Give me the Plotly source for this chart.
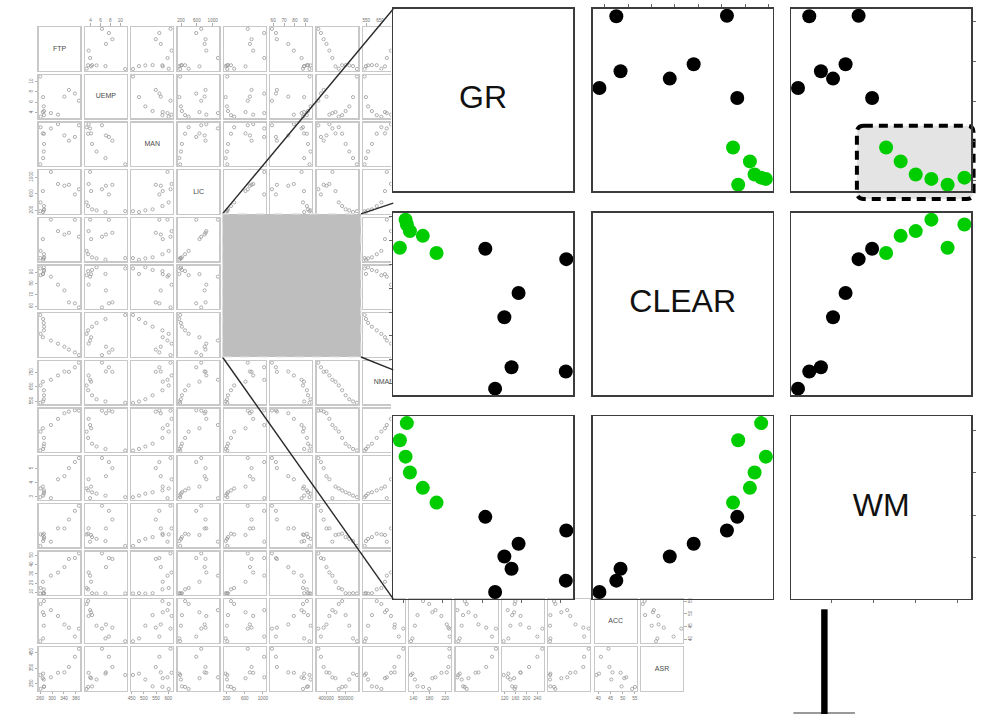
import plotly.graph_objects as go

# ---------------- data (Detroit homicide data, 1961-1973) ----------------
FTP = [260.35, 269.80, 272.04, 272.96, 272.51, 261.34, 268.89, 295.99, 319.87, 341.43, 356.59, 376.69, 390.19]
UEMP = [11.0, 7.0, 5.2, 4.3, 3.5, 3.2, 4.1, 3.9, 3.6, 7.1, 8.4, 7.7, 6.3]
MAN = [455.5, 480.2, 506.1, 535.8, 576.0, 601.7, 577.3, 596.9, 613.5, 569.3, 548.8, 563.4, 609.3]
LIC = [178.15, 156.41, 198.02, 222.10, 301.92, 391.22, 665.56, 1131.21, 837.60, 794.90, 817.74, 583.17, 709.59]
GR = [215.98, 180.48, 209.57, 231.67, 297.65, 367.62, 616.54, 1029.75, 786.23, 713.77, 750.43, 1027.38, 666.50]
CLEAR = [93.4, 88.5, 94.4, 92.0, 91.0, 87.4, 88.3, 86.1, 79.0, 73.9, 63.4, 62.5, 58.9]
WM = [558724, 538584, 519171, 500457, 482418, 465029, 448267, 432109, 416533, 401518, 387046, 373095, 359647]
NMAN = [538.1, 547.6, 562.8, 591.0, 626.1, 659.8, 686.2, 699.6, 729.9, 757.8, 755.3, 787.0, 819.8]
GOV = [133.9, 137.6, 143.6, 150.3, 164.3, 179.5, 187.5, 195.4, 210.3, 223.8, 227.7, 230.9, 230.2]
HE = [2.98, 3.09, 3.23, 3.33, 3.46, 3.60, 3.73, 2.91, 4.25, 4.47, 5.04, 5.47, 5.76]
WE = [117.18, 134.02, 141.68, 147.98, 159.85, 157.19, 155.29, 131.75, 178.74, 178.30, 209.54, 240.05, 258.05]
HOM = [8.60, 8.90, 8.52, 8.89, 13.07, 14.57, 21.36, 28.03, 31.49, 37.39, 46.26, 47.24, 52.33]
ACC = [39.17, 40.27, 45.31, 49.51, 55.05, 53.90, 50.62, 51.47, 49.16, 45.80, 44.54, 41.03, 44.17]
ASR = [306.18, 315.16, 277.53, 234.07, 230.84, 217.99, 286.11, 291.59, 320.39, 323.03, 357.38, 422.07, 473.01]

# highlighted (green) observations in the zoomed view
HIGHLIGHT = [1, 1, 1, 1, 1, 1, 0, 0, 0, 0, 0, 0, 0]

VAR_NAMES = ["FTP", "UEMP", "MAN", "LIC", "GR", "CLEAR", "WM", "NMAN", "GOV", "HE", "WE", "HOM", "ACC", "ASR"]
ZOOM_VARS = ["GR", "CLEAR", "WM"]

# tick values (small matrix)
TICKS = {
    "FTP": [260, 300, 340, 380], "UEMP": [4, 6, 8, 10], "MAN": [450, 500, 550, 600],
    "LIC": [200, 600, 1000], "GR": [200, 600, 1000], "CLEAR": [60, 70, 80, 90],
    "WM": [400000, 500000], "NMAN": [550, 650, 750], "GOV": [140, 180, 220],
    "HE": [3, 4, 5], "WE": [120, 160, 200, 240], "HOM": [10, 20, 30, 40, 50],
    "ACC": [40, 45, 50, 55], "ASR": [250, 350, 450],
}
# tick values (zoomed view, unlabeled)
ZOOM_TICKS = {
    "GR": [200, 400, 600, 800, 1000],
    "CLEAR": [60, 65, 70, 75, 80, 85, 90, 95],
    "WM": [400000, 450000, 500000, 550000],
}

DATA = {"FTP": FTP, "UEMP": UEMP, "MAN": MAN, "LIC": LIC, "GR": GR, "CLEAR": CLEAR, "WM": WM,
        "NMAN": NMAN, "GOV": GOV, "HE": HE, "WE": WE, "HOM": HOM, "ACC": ACC, "ASR": ASR}

# ---------------- geometry (pixels) ----------------
W, H = 986, 714
FONT = "Liberation Sans, Arial, sans-serif"


def fx(px):
    return px / W


def fy(py):
    return 1 - py / H


def ext(v, f=0.04):
    lo, hi = min(v), max(v)
    d = (hi - lo) * f
    return [lo - d, hi + d]


SX0, SXP, SW = 35.0, 46.67, 42.0
SY0, SYP, SH = 25.3, 47.82, 43.5
TRIM_X = 390.0

OX = [392.0, 593.0, 793.0]
OW = 181.0
OY = [7.0, 211.5, 415.5]
OH = 183.0

axes = {}
traces = []
count = [0]


def new_axes(xdom, ydom, xr, yr, xo, yo):
    count[0] += 1
    s = "" if count[0] == 1 else str(count[0])
    axes["xaxis" + s] = dict(domain=xdom, range=xr, anchor="y" + s, **xo)
    axes["yaxis" + s] = dict(domain=ydom, range=yr, anchor="x" + s, **yo)
    return "x" + s, "y" + s


def small_axis(line_mirror=True):
    return dict(showline=True, mirror=line_mirror, linecolor="#c8c8c8", linewidth=1.3,
                showgrid=False, zeroline=False, ticks="", showticklabels=False, fixedrange=True)


def add_ticks(d, side, vals, angle=0):
    d.update(side=side, ticks="outside", ticklen=2.5, tickwidth=0.8, tickcolor="#9a9a9a",
             tickvals=vals, ticktext=[str(v) for v in vals], showticklabels=True,
             tickfont=dict(size=4.6, color="#707070", family=FONT), tickangle=angle)


n = len(VAR_NAMES)
for r in range(n):
    for c in range(n):
        if c >= 8 and r <= 11:
            continue  # hidden by the zoomed view
        if 4 <= r <= 6 and 4 <= c <= 6:
            continue  # hidden by the grey selection block
        xv, yv = VAR_NAMES[c], VAR_NAMES[r]
        left = SX0 + c * SXP
        top = SY0 + r * SYP
        xr = ext(DATA[xv])
        yr = ext(DATA[yv])
        right = left + SW
        trim = (c == 7 and r <= 11)
        if trim:
            frac = (TRIM_X - left) / SW
            xr = [xr[0], xr[0] + (xr[1] - xr[0]) * frac]
            right = TRIM_X
        xo = small_axis(True)
        yo = small_axis(not trim)
        if r == 0 and c % 2 == 1:
            add_ticks(xo, "top", TICKS[xv])
        if r == n - 1 and c % 2 == 0:
            add_ticks(xo, "bottom", TICKS[xv])
        if c == 0 and r % 2 == 1:
            add_ticks(yo, "left", TICKS[yv], -90)
        if c == n - 1 and r % 2 == 0:
            add_ticks(yo, "right", TICKS[yv], -90)
        xa, ya = new_axes([fx(left), fx(right)], [fy(top + SH), fy(top)],
                          xr, yr, xo, yo)
        if r == c:
            fxr, fyr = ext(DATA[xv]), ext(DATA[yv])
            traces.append(go.Scatter(
                x=[(fxr[0] + fxr[1]) / 2], y=[(fyr[0] + fyr[1]) / 2], mode="text",
                text=[xv], textfont=dict(size=7, color="#4a4a4a", family=FONT),
                xaxis=xa, yaxis=ya, hoverinfo="skip", showlegend=False, cliponaxis=True))
        else:
            traces.append(go.Scatter(
                x=DATA[xv], y=DATA[yv], mode="markers", xaxis=xa, yaxis=ya,
                marker=dict(symbol="circle-open", size=3.2, color="#9a9a9a", line=dict(width=0.8)),
                hoverinfo="skip", showlegend=False, cliponaxis=trim))

# ---------------- zoomed 3x3 view ----------------
point_colors = ["#00CD00" if h else "#000000" for h in HIGHLIGHT]


def big_axis():
    return dict(showline=True, mirror=True, linecolor="#3c3c3c", linewidth=1.6,
                showgrid=False, zeroline=False, ticks="", showticklabels=False, fixedrange=True)


def big_ticks(d, side, vals):
    d.update(side=side, ticks="outside", ticklen=3, tickwidth=1, tickcolor="#666666",
             tickvals=vals, showticklabels=False)


for r in range(3):
    for c in range(3):
        xv, yv = ZOOM_VARS[c], ZOOM_VARS[r]
        xo, yo = big_axis(), big_axis()
        if r == 0 and c == 1:
            big_ticks(xo, "top", ZOOM_TICKS[xv])
        if r == 2 and c in (0, 2):
            big_ticks(xo, "bottom", ZOOM_TICKS[xv])
        if c == 0 and r == 1:
            big_ticks(yo, "left", ZOOM_TICKS[yv])
        if c == 2 and r in (0, 2):
            big_ticks(yo, "right", ZOOM_TICKS[yv])
        xr, yr = ext(DATA[xv]), ext(DATA[yv])
        xa, ya = new_axes([fx(OX[c]), fx(OX[c] + OW)], [fy(OY[r] + OH), fy(OY[r])],
                          xr, yr, xo, yo)
        if r == c:
            traces.append(go.Scatter(
                x=[(xr[0] + xr[1]) / 2], y=[(yr[0] + yr[1]) / 2], mode="text", text=[xv],
                textfont=dict(size=32, color="#111111", family=FONT),
                xaxis=xa, yaxis=ya, hoverinfo="skip", showlegend=False))
        else:
            traces.append(go.Scatter(
                x=DATA[xv], y=DATA[yv], mode="markers", xaxis=xa, yaxis=ya,
                marker=dict(symbol="circle", size=14, color=point_colors, line=dict(width=0)),
                hoverinfo="skip", showlegend=False, cliponaxis=False))

# ---------------- decorations ----------------
shapes = []
G0, G1 = (220.0, 212.5), (359.5, 356.0)
ZL, ZR = OX[0], OX[2] + OW
ZT, ZB = OY[0], OY[2] + OH
connectors = [((G0[0], G0[1]), (ZL, ZT)),
              ((G0[0], G1[1]), (ZL, ZB)),
              ((G1[0], G0[1]), (ZR, ZT)),
              ((G1[0], G1[1]), (ZR, ZB))]
for (a, b) in connectors:
    # stop the connector where it reaches the zoomed view's left edge
    t = min(1.0, (ZL - a[0]) / (b[0] - a[0]))
    ex, ey = a[0] + (b[0] - a[0]) * t, a[1] + (b[1] - a[1]) * t
    shapes.append(dict(type="line", xref="paper", yref="paper", layer="above",
                       x0=fx(a[0]), y0=fy(a[1]), x1=fx(ex), y1=fy(ey),
                       line=dict(color="#2a2a2a", width=1.4)))
# grey selection block
shapes.append(dict(type="rect", xref="paper", yref="paper", layer="above",
                   x0=fx(G0[0]), x1=fx(G1[0]), y0=fy(G1[1]), y1=fy(G0[1]),
                   line=dict(color="#e2e2e2", width=1.2, dash="dash"), fillcolor="#bebebe"))
# rounded dashed highlight box
hx0, hx1, hy0, hy1, rad = 859.0, 976.5, 124.0, 197.5, 7.0


def P(x, y):
    return f"{fx(x):.6f},{fy(y):.6f}"


path = (f"M {P(hx0 + rad, hy0)} L {P(hx1 - rad, hy0)} Q {P(hx1, hy0)} {P(hx1, hy0 + rad)} "
        f"L {P(hx1, hy1 - rad)} Q {P(hx1, hy1)} {P(hx1 - rad, hy1)} "
        f"L {P(hx0 + rad, hy1)} Q {P(hx0, hy1)} {P(hx0, hy1 - rad)} "
        f"L {P(hx0, hy0 + rad)} Q {P(hx0, hy0)} {P(hx0 + rad, hy0)} Z")
shapes.append(dict(type="path", xref="paper", yref="paper", layer="below", path=path,
                   fillcolor="#e4e4e4", line=dict(color="#000000", width=4, dash="9px,6px")))
# stand below the zoomed view
shapes.append(dict(type="line", xref="paper", yref="paper", layer="above",
                   x0=fx(795), x1=fx(857), y0=fy(713), y1=fy(713),
                   line=dict(color="#999999", width=2)))
shapes.append(dict(type="rect", xref="paper", yref="paper", layer="above",
                   x0=fx(823), x1=fx(829.5), y0=fy(714), y1=fy(609),
                   line=dict(width=0), fillcolor="#000000"))

fig = go.Figure(data=traces)
fig.update_layout(
    width=W, height=H, margin=dict(l=0, r=0, t=0, b=0, pad=0),
    paper_bgcolor="#ffffff", plot_bgcolor="#ffffff",
    font=dict(family=FONT), showlegend=False, shapes=shapes, **axes)
fig.write_html("out.html", config={"staticPlot": True})
